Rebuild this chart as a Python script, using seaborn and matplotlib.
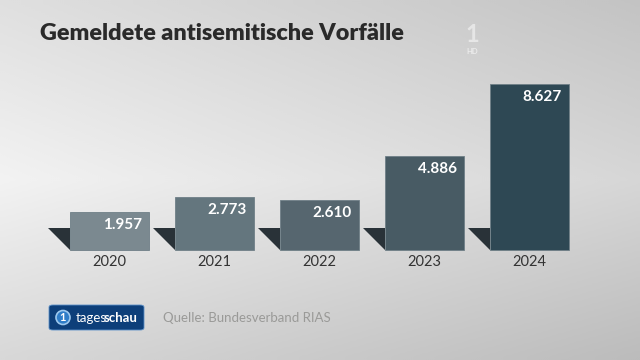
import numpy as np
import pandas as pd
import seaborn as sns
import matplotlib.pyplot as plt
from matplotlib.patches import Polygon, FancyBboxPatch, Circle
from matplotlib.text import Annotation

# Daten: gemeldete antisemitische Vorfälle (Quelle: RIAS)
jahre = ["2020", "2021", "2022", "2023", "2024"]
vorfaelle = [1957, 2773, 2610, 4886, 8627]
farben = ["#7b8990", "#64767e", "#56666f", "#485b64", "#2e4854"]

df = pd.DataFrame({"jahr": jahre, "anzahl": vorfaelle})

sns.set_theme(style="white")
plt.rcParams["font.family"] = ["Lato", "DejaVu Sans"]

fig = plt.figure(figsize=(6.4, 3.6), dpi=100)

# Hintergrund mit Verlauf
bg = fig.add_axes([0, 0, 1, 1], zorder=0)
yy, xx = np.mgrid[0:1:180j, 0:1:320j]
hell = 0.935 - 0.11 * xx - 0.09 * np.abs(yy - 0.5) * 2 + 0.03 * yy
bg.imshow(hell, cmap="gray", vmin=0, vmax=1, aspect="auto",
          extent=[0, 1, 0, 1], origin="lower", interpolation="bicubic")
bg.axis("off")

ax = fig.add_axes([0, 0, 1, 1], zorder=1)
ax.patch.set_alpha(0)

sns.barplot(data=df, x="jahr", y="anzahl", hue="jahr", palette=farben,
            width=0.752, saturation=1, legend=False, ax=ax, zorder=3,
            edgecolor="#6f7f87", linewidth=0.6)

# Pixel -> Daten: 105 px pro Kategorie, 52 Fälle pro px
px_x = 1 / 105
px_y = 52.0
ax.set_xlim(-109.5 * px_x, (640 - 109.5) * px_x)
ax.set_ylim(-110 * px_y, 250 * px_y)
ax.axis("off")

for bar, wert, jahr in zip(ax.patches, vorfaelle, jahre):
    links = bar.get_x()
    rechts = links + bar.get_width()
    mitte = links + bar.get_width() / 2
    # Schatten links neben dem Balken
    schatten = Polygon([(links - 22 * px_x, 22 * px_y), (links, 22 * px_y), (links, 0)],
                       closed=True, facecolor="#293238", edgecolor="none", zorder=2)
    ax.add_patch(schatten)
    ax.annotate(f"{wert:,}".replace(",", "."), xy=(rechts, wert),
                xytext=(-7, -13), textcoords="offset pixels",
                ha="right", va="center", color="white", fontsize=11,
                fontweight="bold", zorder=4)
    ax.annotate(jahr, xy=(mitte, 0), xytext=(0, -12), textcoords="offset pixels",
                ha="center", va="center", color="#333333", fontsize=10.5)

fig.text(40 / 640, 1 - 34 / 360, "Gemeldete antisemitische Vorfälle",
         ha="left", va="center", fontsize=16.8, fontweight="heavy", color="#2a2a2a")

# ARD-Logo (angedeutet)
fig.text(472 / 640, 1 - 34 / 360, "1", ha="center", va="center", fontsize=17,
         fontweight="bold", color="white", alpha=0.5)
fig.text(472 / 640, 1 - 52 / 360, "HD", ha="center", va="center", fontsize=5.5,
         fontweight="bold", color="white", alpha=0.6)

# tagesschau-Logo
logo = FancyBboxPatch((49 / 640, 1 - 330 / 360), 95 / 640, 25 / 360,
                      boxstyle="round,pad=0,rounding_size=0.006",
                      transform=fig.transFigure, facecolor="#0d3f7a",
                      edgecolor="#5a8fc8", linewidth=0.6, zorder=5)
fig.patches.append(logo)
kreis = Circle((0.63, 3.6 - 3.175), 0.07, transform=fig.dpi_scale_trans,
               facecolor="#2f7dc8", edgecolor="#9cc8ee", linewidth=1.2, zorder=6)
fig.patches.append(kreis)
fig.text(63 / 640, 1 - 317.5 / 360, "1", ha="center", va="center", fontsize=8,
         fontweight="bold", color="white", zorder=7)
tages = fig.text(76 / 640, 1 - 317.5 / 360, "tages", ha="left", va="center",
                 fontsize=9.5, color="white", zorder=7)
schau = Annotation("schau", xy=(1, 0.5), xycoords=tages, xytext=(-3, 0),
                   textcoords="offset pixels", ha="left", va="center",
                   fontsize=9.5, fontweight="bold", color="white", zorder=7)
fig.add_artist(schau)

fig.text(163 / 640, 1 - 318 / 360, "Quelle: Bundesverband RIAS", ha="left", va="center",
         fontsize=9.5, color="#9a9a98")

plt.savefig("out.png", dpi=100)
